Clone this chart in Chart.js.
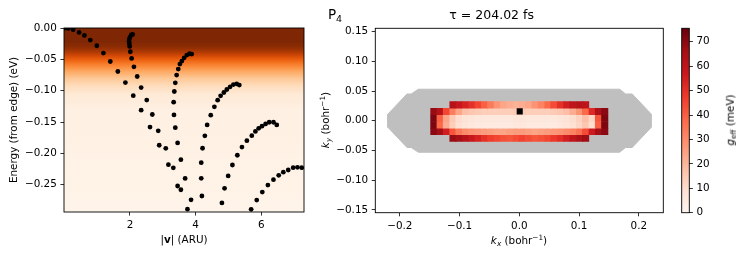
<!DOCTYPE html>
<html>
<head>
<meta charset="utf-8">
<script src="https://cdn.jsdelivr.net/npm/chart.js@4.4.1/dist/chart.umd.min.js"></script>
<style>
body { margin: 0; width: 747px; height: 262px; position: relative; overflow: hidden; background: #fff; font-family: 'DejaVu Sans', sans-serif; color: #000; }
canvas { position: absolute; top: 0; }
.lbl { position: absolute; font-size: 10.4px; line-height: 1; white-space: nowrap; transform: translate(-50%, -50%); }
.rot { transform: translate(-50%, -50%) rotate(-90deg); }
.lbl sup { font-size: 0.7em; vertical-align: 0.5em; line-height: 0; }
.lbl sub { font-size: 0.7em; vertical-align: -0.3em; line-height: 0; }
.lbl i { font-style: oblique; }
</style>
</head>
<body>
<canvas id="energy_chart" width="330" height="262" style="left:0"></canvas>
<canvas id="k_chart" width="399" height="262" style="left:320px"></canvas>
<canvas id="cbar" width="87" height="262" style="left:660px"></canvas>
<div class="lbl" style="left:184px; top:239px">|<b>v</b>| (ARU)</div>
<div class="lbl" style="left:519px; top:240px"><i>k</i><sub><i>x</i></sub> (bohr<sup>−1</sup>)</div>
<div class="lbl rot" style="left:325px; top:120px"><i>k</i><sub><i>y</i></sub> (bohr<sup>−1</sup>)</div>
<div class="lbl rot" style="left:730px; top:120px"><i>g</i><sub>eff</sub> (meV)</div>
<div class="lbl" style="left:335px; top:15px; font-size:13.5px">P<sub>4</sub></div>
<script>
// ---- left panel: energy vs |v| branches ----
const speedA  = [0.02, 0.12, 0.27, 0.45, 0.61, 0.79, 0.99, 1.19, 1.40, 1.63, 1.86, 2.10, 2.34, 2.61, 2.89, 3.17, 3.45, 3.75];
const energyA = [0.000, -0.0006, -0.0027, -0.0070, -0.0118, -0.0192, -0.0283, -0.0400, -0.0534, -0.0694, -0.0870, -0.1080, -0.1310, -0.1580, -0.1870, -0.2180, -0.2520, -0.2890];
const speedB  = [2.08, 2.04, 2.00, 1.98, 1.97, 1.98, 1.99, 2.01, 2.05, 2.12, 2.22, 2.34, 2.51, 2.68, 2.86, 3.09, 3.32, 3.55];
const energyB = [-0.0102, -0.0112, -0.0144, -0.0176, -0.0214, -0.0251, -0.0294, -0.0379, -0.0486, -0.0619, -0.0774, -0.0950, -0.1150, -0.1380, -0.1640, -0.1920, -0.2230, -0.2580];
const speedC  = [3.88, 3.81, 3.73, 3.65, 3.58, 3.52, 3.47, 3.42, 3.38, 3.35, 3.33, 3.34, 3.38, 3.45, 3.55, 3.68, 3.86];
const energyC = [-0.0416, -0.0411, -0.0432, -0.0475, -0.0527, -0.0575, -0.0655, -0.0751, -0.0874, -0.1013, -0.1183, -0.1386, -0.1590, -0.1833, -0.2100, -0.2400, -0.2740];
const speedD  = [5.33, 5.25, 5.15, 5.05, 4.95, 4.86, 4.76, 4.67, 4.57, 4.46, 4.35, 4.28, 4.21, 4.17, 4.17, 4.19];
const energyD = [-0.0911, -0.0890, -0.0902, -0.0938, -0.0981, -0.1029, -0.1082, -0.1151, -0.1258, -0.1390, -0.1546, -0.1720, -0.1918, -0.2148, -0.2398, -0.2680];
const speedE  = [6.47, 6.37, 6.24, 6.13, 6.02, 5.92, 5.82, 5.71, 5.56, 5.41, 5.27, 5.12, 4.99, 4.88, 4.80];
const energyE = [-0.1546, -0.1503, -0.1503, -0.1530, -0.1566, -0.1600, -0.1650, -0.1717, -0.1797, -0.1900, -0.2030, -0.2185, -0.2360, -0.2558, -0.2790];
const speedF  = [7.23, 7.10, 6.97, 6.82, 6.67, 6.53, 6.37, 6.20, 6.03, 5.86, 5.69];
const energyF = [-0.2228, -0.2222, -0.2228, -0.2265, -0.2300, -0.2350, -0.2420, -0.2505, -0.2617, -0.2745, -0.2893];

const speedTicks = [2, 4, 6];
const energyTicks = [0, -0.05, -0.10, -0.15, -0.20, -0.25];

// background shading (energy -> colour)
const bgEnergy = [0, -0.022, -0.030, -0.037, -0.043, -0.049, -0.055, -0.062, -0.070, -0.080, -0.092, -0.105, -0.130, -0.294];
const bgColor  = ['#7f2704', '#7f2704', '#8c2c04', '#a83804', '#cc4506', '#e65a0c', '#f4721f', '#fa8e3e', '#fdab66', '#fdc795', '#fedcbb', '#fee9d5', '#fef0e2', '#fff4e9'];

// ---- right panel: k-space map ----
const kxCenters = [-0.143, -0.1325, -0.122, -0.111, -0.101, -0.090, -0.0795, -0.069, -0.058, -0.048, -0.037, -0.0265, -0.016, -0.005,
                    0.005, 0.016, 0.0265, 0.037, 0.048, 0.058, 0.069, 0.0795, 0.090, 0.101, 0.111, 0.122, 0.1325, 0.143];
const kyCenters = [-0.0293, -0.0181, -0.0069, 0.0043, 0.0155, 0.0267];
const cellW = 0.0106;
const cellH = 0.0112;
const gEffRows = [
  [null, null, null, 68, 66, 62, 58, 54, 50, 47, 45, 43, 42, 44, 46, 44, 42, 43, 45, 48, 51, 55, 60, 64, 67, null, null, null],
  [70, 66, 55, 42, 34, 30, 28, 27, 26, 25, 24, 24, 25, 26, 26, 25, 24, 25, 26, 27, 28, 30, 32, 36, 44, 56, 66, 70],
  [72, 38, 22, 14, 9, 7, 6, 5, 5, 5, 5, 5, 5, 6, 6, 5, 5, 5, 5, 5, 6, 7, 9, 12, 16, 10, 40, 72],
  [72, 40, 24, 15, 10, 8, 7, 6, 6, 6, 6, 6, 6, 7, 7, 6, 6, 6, 6, 6, 7, 8, 10, 13, 18, 12, 42, 72],
  [68, 62, 45, 33, 24, 18, 16, 15, 14, 14, 14, 14, 14, 15, 15, 14, 14, 14, 14, 15, 16, 18, 22, 28, 38, 52, 64, 70],
  [null, null, null, 62, 58, 54, 50, 45, 40, 34, 28, 24, 22, 21, 22, 24, 28, 32, 38, 44, 50, 55, 60, 62, 60, null, null, null]
];
const hullX = [-0.169, -0.181, -0.188, -0.220, -0.220, -0.188, -0.181, -0.169, 0.168, 0.178, 0.189, 0.221, 0.221, 0.189, 0.178, 0.168, -0.169];
const hullY = [0.053, 0.045, 0.045, 0.011, -0.011, -0.045, -0.045, -0.053, -0.053, -0.045, -0.045, -0.011, 0.011, 0.045, 0.045, 0.053, 0.053];
const markerX = [0.0007];
const markerY = [0.0157];
const kxTicks = [-0.2, -0.1, 0, 0.1, 0.2];
const kyTicks = [-0.15, -0.10, -0.05, 0, 0.05, 0.10, 0.15];

const cbMax = 75.5;
const cbTicks = [0, 10, 20, 30, 40, 50, 60, 70];

const reds = ['#fff5f0', '#fee0d2', '#fcbba1', '#fc9272', '#fb6a4a', '#ef3b2c', '#cb181d', '#a50f15', '#67000d'];

// ---- helpers ----
function hex(c) { return [1, 3, 5].map(i => parseInt(c.slice(i, i + 2), 16)); }
function cmap(colors, t) {
  t = Math.min(1, Math.max(0, t));
  const p = t * (colors.length - 1);
  const i = Math.min(Math.floor(p), colors.length - 2), f = p - i;
  const a = hex(colors[i]), b = hex(colors[i + 1]);
  const m = a.map((v, k) => Math.round(v + (b[k] - v) * f));
  return 'rgb(' + m.join(',') + ')';
}
const fmt = (v, d) => (v < 0 ? '\u2212' : '') + Math.abs(v).toFixed(d);
const font = { family: 'DejaVu Sans', size: 10.4 };
const tickGrid = { display: true, drawOnChartArea: false, drawTicks: true, tickLength: 3.6, color: '#000', lineWidth: 0.8 };

const frame = {
  id: 'frame',
  afterDatasetsDraw(chart) {
    const { ctx, chartArea: a } = chart;
    ctx.save();
    ctx.strokeStyle = '#000';
    ctx.lineWidth = 0.9;
    ctx.strokeRect(a.left, a.top, a.right - a.left, a.bottom - a.top);
    ctx.restore();
  }
};

const bgShade = {
  id: 'bgShade',
  beforeDatasetsDraw(chart) {
    const { ctx, chartArea: a, scales: { y } } = chart;
    const g = ctx.createLinearGradient(0, a.top, 0, a.bottom);
    bgEnergy.forEach((e, i) => {
      const off = (y.getPixelForValue(e) - a.top) / (a.bottom - a.top);
      g.addColorStop(Math.min(1, Math.max(0, off)), bgColor[i]);
    });
    ctx.save();
    ctx.fillStyle = g;
    ctx.fillRect(a.left, a.top, a.right - a.left, a.bottom - a.top);
    ctx.restore();
  }
};

// ---- left chart ----
const branches = [[speedA, energyA], [speedB, energyB], [speedC, energyC], [speedD, energyD], [speedE, energyE], [speedF, energyF]];

new Chart(document.getElementById('energy_chart'), {
  type: 'scatter',
  data: {
    datasets: branches.map(([v, e]) => ({
      data: v.map((s, i) => ({ x: s, y: e[i] })),
      pointBackgroundColor: '#000',
      pointBorderWidth: 0,
      pointRadius: 2.4
    }))
  },
  options: {
    responsive: false,
    animation: false,
    events: [],
    layout: { padding: { top: 28, right: 26, left: 0, bottom: 0 } },
    plugins: { legend: { display: false }, tooltip: { enabled: false } },
    scales: {
      x: {
        type: 'linear', min: -0.01, max: 7.3,
        afterFit: s => { s.height = 50; },
        afterBuildTicks: s => { s.ticks = speedTicks.map(v => ({ value: v })); },
        ticks: { font, color: '#000', padding: 3.6, callback: v => String(v) },
        grid: tickGrid,
        border: { display: false }
      },
      y: {
        min: -0.2935, max: 0,
        afterFit: s => { s.width = 64; },
        afterBuildTicks: s => { s.ticks = energyTicks.map(v => ({ value: v })); },
        ticks: { font, color: '#000', padding: 3.6, callback: v => fmt(v, 2) },
        grid: tickGrid,
        border: { display: false },
        title: { display: true, text: 'Energy (from edge) (eV)', font, color: '#000', padding: { top: 8.5, bottom: 0 } }
      }
    }
  },
  plugins: [bgShade, frame]
});

// ---- right chart ----
const cells = [];
gEffRows.forEach((row, j) => row.forEach((v, i) => {
  if (v !== null) cells.push({ x: kxCenters[i], y: kyCenters[j], v });
}));

new Chart(document.getElementById('k_chart'), {
  type: 'scatter',
  data: {
    datasets: [
      {
        data: markerX.map((x, i) => ({ x, y: markerY[i] })),
        pointStyle: 'rect', pointRadius: 4.3, pointBackgroundColor: '#000', pointBorderWidth: 0,
        order: 0
      },
      {
        data: cells,
        pointStyle: 'rect',
        pointBorderWidth: 0,
        pointRadius: c => {
          const { x: sx, y: sy } = c.chart.scales;
          const w = Math.abs(sx.getPixelForValue(cellW) - sx.getPixelForValue(0));
          const h = Math.abs(sy.getPixelForValue(cellH) - sy.getPixelForValue(0));
          return Math.max(w, h) / Math.SQRT2 + 0.3;
        },
        pointBackgroundColor: c => cmap(reds, (c.raw ? c.raw.v : 0) / cbMax),
        order: 1
      },
      {
        type: 'line',
        data: hullX.map((x, i) => ({ x, y: hullY[i] })),
        borderColor: '#bfbfbf', backgroundColor: '#bfbfbf', borderWidth: 1,
        pointRadius: 0, fill: 'shape', tension: 0,
        order: 2
      }
    ]
  },
  options: {
    responsive: false,
    animation: false,
    events: [],
    layout: { padding: { top: 4, right: 55.7, left: 0, bottom: 0 } },
    plugins: {
      legend: { display: false }, tooltip: { enabled: false },
      title: { display: true, text: '\u03c4 = 204.02 fs', font: { family: 'DejaVu Sans', size: 12.5, weight: 'normal' }, color: '#000', padding: { top: 4, bottom: 5.3 } }
    },
    scales: {
      x: {
        type: 'linear', min: -0.241, max: 0.241,
        afterFit: s => { s.height = 49.3; },
        afterBuildTicks: s => { s.ticks = kxTicks.map(v => ({ value: v })); },
        ticks: { font, color: '#000', padding: 3.6, callback: v => fmt(v, 1) },
        grid: tickGrid,
        border: { display: false }
      },
      y: {
        min: -0.1547, max: 0.1555,
        afterFit: s => { s.width = 55.3; },
        afterBuildTicks: s => { s.ticks = kyTicks.map(v => ({ value: v })); },
        ticks: { font, color: '#000', padding: 3.6, callback: v => fmt(v, 2) },
        grid: tickGrid,
        border: { display: false }
      }
    }
  },
  plugins: [frame]
});

// ---- colour bar ----
new Chart(document.getElementById('cbar'), {
  type: 'bar',
  data: {
    labels: [''],
    datasets: [{
      data: [cbMax],
      barPercentage: 1, categoryPercentage: 1, borderWidth: 0,
      backgroundColor: c => {
        const a = c.chart.chartArea;
        if (!a) return null;
        const g = c.chart.ctx.createLinearGradient(0, a.bottom, 0, a.top);
        reds.forEach((col, i) => g.addColorStop(i / (reds.length - 1), col));
        return g;
      }
    }]
  },
  options: {
    responsive: false,
    animation: false,
    events: [],
    layout: { padding: { top: 28.3, right: 0, left: 21.7, bottom: 49.3 } },
    plugins: { legend: { display: false }, tooltip: { enabled: false } },
    scales: {
      x: { display: false },
      y: {
        position: 'right', min: 0, max: cbMax,
        afterFit: s => { s.width = 57.7; },
        afterBuildTicks: s => { s.ticks = cbTicks.map(v => ({ value: v })); },
        ticks: { font, color: '#000', padding: 3.6 },
        grid: tickGrid,
        border: { display: false }
      }
    }
  },
  plugins: [frame]
});
</script>
</body>
</html>
